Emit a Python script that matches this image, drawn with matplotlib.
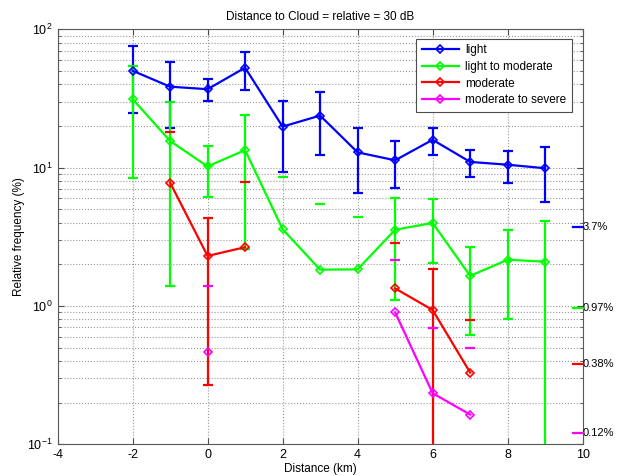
import numpy as np
import matplotlib
matplotlib.use("Agg")
import matplotlib.pyplot as plt
from matplotlib.ticker import LogLocator, FixedLocator, NullFormatter

plt.rcParams['font.family'] = ['Liberation Sans', 'DejaVu Sans']
plt.rcParams['mathtext.fontset'] = 'custom'
plt.rcParams['mathtext.rm'] = 'Liberation Sans'
plt.rcParams['mathtext.it'] = 'Liberation Sans'
plt.rcParams['axes.unicode_minus'] = False

# distance bins (km)
distance = np.arange(-2, 10)

# relative frequency (%) and error half-widths per intensity category
light = [50.2, 38.5, 36.9, 52.8, 19.8, 23.8, 12.9, 11.3, 15.9, 11.0, 10.5, 9.9]
light_err = [25.2, 19.3, 6.5, 16.3, 10.5, 11.5, 6.3, 4.2, 3.5, 2.5, 2.8, 4.3]

light_mod = [31.4, 15.6, 10.2, 13.4, 3.59, 1.83, 1.84, 3.56, 3.98, 1.65, 2.16, 2.09]
light_mod_err = [23.0, 14.2, 4.1, 10.8, 5.0, 3.6, 2.58, 2.45, 1.92, 1.03, 1.36, 2.05]

nan = np.nan
moderate = [nan, 7.8, 2.30, 2.66, nan, nan, nan, 1.34, 0.935, 0.33, nan, nan]
moderate_err = [nan, 10.3, 2.03, 5.2, nan, nan, nan, 1.53, 0.925, 0.46, nan, nan]

mod_sev = [nan, nan, 0.463, nan, nan, nan, nan, 0.90, 0.234, 0.164, nan, nan]
mod_sev_err = [nan, nan, 0.92, nan, nan, nan, nan, 1.24, 0.46, 0.33, nan, nan]

series_labels = ['light', 'light to moderate', 'moderate', 'moderate to severe']
series_colors = ['#0000ff', '#00ff00', '#ff0000', '#ff00ff']

# overall (climatological) frequency of each category
overall = [3.7, 0.97, 0.38, 0.12]
overall_labels = ['3.7%', '0.97%', '0.38%', '0.12%']

fig = plt.figure(figsize=(6.23, 4.76), dpi=100)
ax = fig.add_axes([0.0923, 0.0666, 0.8430, 0.8718])
ax.set_yscale('log')
ax.set_xlim(-4, 10)
ax.set_ylim(0.1, 100)

all_y = [light, light_mod, moderate, mod_sev]
all_e = [light_err, light_mod_err, moderate_err, mod_sev_err]

handles = []
for y, e, c, lab in zip(all_y, all_e, series_colors, series_labels):
    y = np.asarray(y, float)
    e = np.asarray(e, float)
    ok = ~np.isnan(y)
    lo = y - e
    hi = y + e
    pos = ok & (lo > 0)
    # error bars: the lower part is only drawn where it stays positive
    ax.vlines(distance[pos], lo[pos], hi[pos], colors=c, lw=1.6, zorder=3)
    ax.plot(distance[ok], hi[ok], ls='none', marker='_', ms=7, mew=1.6, color=c, zorder=3)
    ax.plot(distance[pos], lo[pos], ls='none', marker='_', ms=7, mew=1.6, color=c, zorder=3)
    h, = ax.plot(distance, y, color=c, lw=1.6, marker='D', ms=4,
                 mfc='none', mec=c, mew=1.2, label=lab, zorder=4)
    handles.append(h)

# overall frequency markers on the right edge
for v, lab, c in zip(overall, overall_labels, series_colors):
    ax.plot([9.74, 10.0], [v, v], color=c, lw=1.6, clip_on=False, zorder=5)
    ax.annotate(lab, xy=(10.0, v), xycoords='data', xytext=(0, 0),
                textcoords='offset points', ha='left', va='center', fontsize=8)

ax.xaxis.set_major_locator(FixedLocator(np.arange(-4, 11, 2)))
ax.yaxis.set_major_locator(LogLocator(base=10, numticks=10))
ax.yaxis.set_minor_locator(LogLocator(base=10, subs=np.arange(2, 10), numticks=10))
ax.yaxis.set_minor_formatter(NullFormatter())

ax.grid(True, which='major', axis='both', ls=':', color='0.6', lw=0.8)
ax.grid(True, which='minor', axis='y', ls=':', color='0.6', lw=0.8)
ax.set_axisbelow(True)

ax.tick_params(which='both', direction='in', top=True, right=True,
               labelsize=9, color='0.3')
ax.tick_params(which='major', length=4)
ax.tick_params(which='minor', length=2)
for s in ax.spines.values():
    s.set_color('0.35')
    s.set_linewidth(0.8)

ax.set_title('Distance to Cloud = relative = 30 dB', fontsize=8.5, pad=7)
ax.set_xlabel('Distance (km)', fontsize=8.5, labelpad=1)
ax.set_ylabel('Relative frequency (%)', fontsize=8.5)
ax.yaxis.set_label_coords(-0.061, 0.5)

leg = ax.legend(handles=handles, loc='upper right', bbox_to_anchor=(0.979, 0.977),
                borderaxespad=0, fontsize=8.5, handlelength=3.2, handletextpad=0.5,
                borderpad=0.45, labelspacing=0.4, fancybox=False, framealpha=1,
                edgecolor='0.3')
leg.get_frame().set_linewidth(0.8)

fig.savefig('out.png', dpi=100)
